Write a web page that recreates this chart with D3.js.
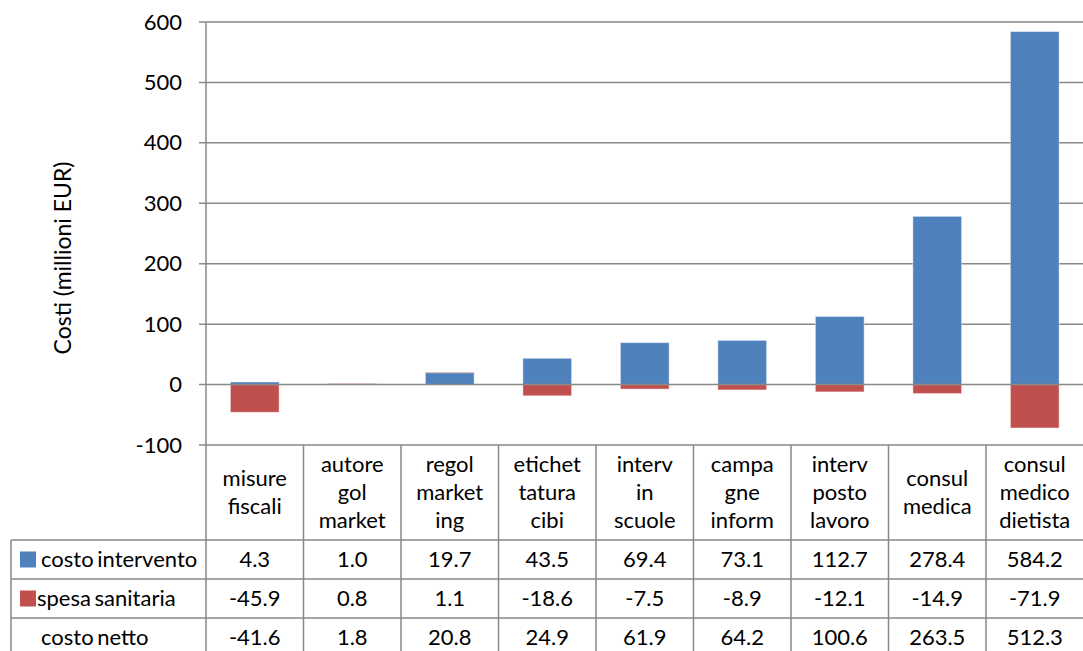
<!DOCTYPE html>
<html>
<head>
<meta charset="utf-8">
<script src="https://cdn.jsdelivr.net/npm/d3@7"></script>
<style>
  body { margin: 0; background: #fff; }
  svg { display: block; font-family: Lato, "Open Sans", sans-serif; }
</style>
</head>
<body>
<svg id="chart" width="1083" height="651"></svg>
<script>
// categories (header lines as shown in the data table)
const categories = [
  ["misure", "fiscali"],
  ["autore", "gol", "market"],
  ["regol", "market", "ing"],
  ["etichet", "tatura", "cibi"],
  ["interv", "in", "scuole"],
  ["campa", "gne", "inform"],
  ["interv", "posto", "lavoro"],
  ["consul", "medica"],
  ["consul", "medico", "dietista"]
];
const costoIntervento = [4.3, 1.0, 19.7, 43.5, 69.4, 73.1, 112.7, 278.4, 584.2];
const spesaSanitaria = [-45.9, 0.8, 1.1, -18.6, -7.5, -8.9, -12.1, -14.9, -71.9];
const costoNetto = [-41.6, 1.8, 20.8, 24.9, 61.9, 64.2, 100.6, 263.5, 512.3];
const yTicks = [-100, 0, 100, 200, 300, 400, 500, 600];

const seriesNames = ["costo intervento", "spesa sanitaria", "costo netto"];
const colors = {"costo intervento": "#4f81bd", "spesa sanitaria": "#c0504d"};

const svg = d3.select("#chart");
const gridColor = "#898989";
const fontSize = 22;

// hyphen minus like the original, not the unicode minus of d3.format
const fmt1 = v => d3.format(".1f")(v).replace("\u2212", "-");
const fmt0 = v => d3.format("d")(v).replace("\u2212", "-");

const plotLeft = 206, plotRight = 1083.5, plotTop = 22, plotBottom = 445;
const tableLeft = 11, rowH = 39;
const rowTops = [540, 579, 618];

const keys = categories.map((c, i) => i);
const x = d3.scaleBand().domain(keys).range([plotLeft, plotRight]).paddingInner(0).paddingOuter(0);
const y = d3.scaleLinear().domain([-100, 600]).range([plotBottom, plotTop]);

// gridlines
svg.append("g")
  .selectAll("line")
  .data(yTicks.filter(d => d !== 0))
  .join("line")
  .attr("x1", plotLeft - 7).attr("x2", plotRight)
  .attr("y1", d => y(d)).attr("y2", d => y(d))
  .attr("stroke", gridColor).attr("stroke-width", 1.5);

// stacked bars
const rows = keys.map(i => ({
  key: i,
  "costo intervento": costoIntervento[i],
  "spesa sanitaria": spesaSanitaria[i]
}));
const stack = d3.stack()
  .keys(["costo intervento", "spesa sanitaria"])
  .offset(d3.stackOffsetDiverging);
const stacked = stack(rows);
const barW = x.bandwidth() * 0.5;

svg.append("g")
  .selectAll("g")
  .data(stacked)
  .join("g")
  .attr("fill", s => colors[s.key])
  .selectAll("rect")
  .data(s => s)
  .join("rect")
  .attr("x", d => x(d.data.key) + (x.bandwidth() - barW) / 2)
  .attr("width", barW)
  .attr("y", d => y(Math.max(d[0], d[1])))
  .attr("height", d => Math.abs(y(d[0]) - y(d[1])))
  .attr("stroke", "rgba(255,255,255,0.45)")
  .attr("stroke-width", 1);

// zero line (category axis) over the bars
svg.append("line")
  .attr("x1", plotLeft - 7).attr("x2", plotRight)
  .attr("y1", y(0)).attr("y2", y(0))
  .attr("stroke", gridColor).attr("stroke-width", 1.5);

// value axis
const yAxis = svg.append("g")
  .attr("transform", `translate(${plotLeft},0)`)
  .call(d3.axisLeft(y).tickValues(yTicks).tickSize(0).tickPadding(24).tickFormat(fmt0));
yAxis.select(".domain").remove();
yAxis.selectAll("text")
  .attr("font-size", fontSize)
  .attr("font-family", "Lato, sans-serif")
  .attr("fill", "#000");

svg.append("line")
  .attr("x1", plotLeft).attr("x2", plotLeft)
  .attr("y1", plotTop).attr("y2", 651)
  .attr("stroke", gridColor).attr("stroke-width", 1.5);

svg.append("text")
  .attr("transform", "translate(71,258) rotate(-90)")
  .attr("text-anchor", "middle")
  .attr("font-size", 23)
  .text("Costi (millioni EUR)");

// data table
const table = svg.append("g");
// vertical column separators
table.selectAll("line.col")
  .data(keys.slice(1))
  .join("line")
  .attr("class", "col")
  .attr("x1", d => x(d)).attr("x2", d => x(d))
  .attr("y1", plotBottom).attr("y2", 651)
  .attr("stroke", gridColor).attr("stroke-width", 1.5);
// horizontal row lines
table.selectAll("line.row")
  .data(rowTops)
  .join("line")
  .attr("class", "row")
  .attr("x1", tableLeft).attr("x2", plotRight)
  .attr("y1", d => d).attr("y2", d => d)
  .attr("stroke", gridColor).attr("stroke-width", 1.5);
table.append("line")
  .attr("x1", tableLeft).attr("x2", tableLeft)
  .attr("y1", rowTops[0]).attr("y2", 651)
  .attr("stroke", gridColor).attr("stroke-width", 1.5);

// header: category names
const lineH = 28;
const headMid = (plotBottom + rowTops[0]) / 2;
table.selectAll("text.cat")
  .data(categories)
  .join("text")
  .attr("class", "cat")
  .attr("text-anchor", "middle")
  .attr("font-size", fontSize)
  .each(function (lines, i) {
    const t = d3.select(this);
    const y0 = headMid - (lines.length - 1) * lineH / 2;
    lines.forEach((ln, j) => {
      t.append("tspan")
        .attr("x", x(i) + x.bandwidth() / 2)
        .attr("y", y0 + j * lineH)
        .attr("dy", "0.35em")
        .text(ln);
    });
  });

// rows: legend key + values
const values = [costoIntervento, spesaSanitaria, costoNetto];
const labelX = [41, 37, 41];
seriesNames.forEach((name, r) => {
  const cy = rowTops[r] + rowH / 2;
  if (colors[name]) {
    table.append("rect")
      .attr("x", 20).attr("y", cy - 8)
      .attr("width", 16).attr("height", 16)
      .attr("fill", colors[name]);
  }
  table.append("text")
    .attr("x", labelX[r]).attr("y", cy)
    .attr("dy", "0.35em")
    .attr("font-size", fontSize)
    .attr("word-spacing", -2)
    .text(name);
  table.selectAll(null)
    .data(values[r])
    .join("text")
    .attr("x", (d, i) => x(i) + x.bandwidth() / 2)
    .attr("y", cy)
    .attr("dy", "0.35em")
    .attr("text-anchor", "middle")
    .attr("font-size", fontSize)
    .text(fmt1);
});
</script>
</body>
</html>
